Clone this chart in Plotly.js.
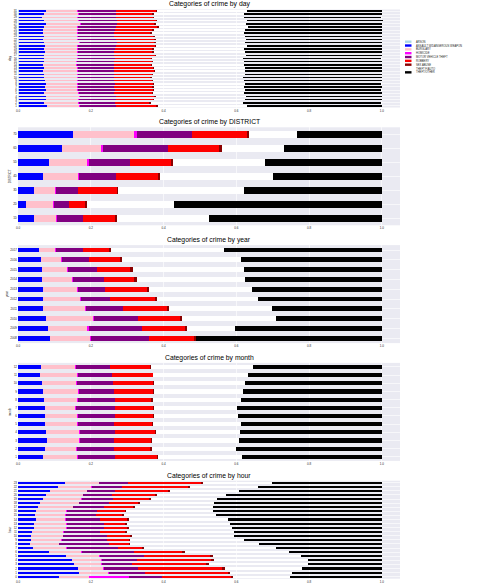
<!DOCTYPE html>
<html>
<head>
<meta charset="utf-8">
<script src="https://cdn.plot.ly/plotly-3.0.1.min.js"></script>
<style>html,body{margin:0;padding:0;background:#fff;}#chart{width:478px;height:588px;}</style>
</head>
<body>
<div id="chart"></div>
<script>
// ---------- categories ----------
const crimeCategories = ['ARSON','ASSAULT W/DANGEROUS WEAPON','BURGLARY','HOMICIDE','MOTOR VEHICLE THEFT','ROBBERY','SEX ABUSE','THEFT F/AUTO','THEFT/OTHER'];

// ---------- by day ----------
const dayLabels = ['1','2','3','4','5','6','7','8','9','10','11','12','13','14','15','16','17','18','19','20','21','22','23','24','25','26','27','28','29','30','31'];
const dayArson    = [.002,.002,.002,.002,.002,.002,.002,.002,.002,.002,.002,.002,.002,.002,.002,.002,.002,.002,.002,.002,.002,.002,.002,.002,.002,.002,.002,.002,.002,.002,.002];
const dayAssault  = [.079,.070,.074,.076,.070,.074,.073,.074,.072,.070,.070,.068,.070,.068,.070,.070,.070,.072,.070,.072,.070,.068,.070,.068,.068,.070,.076,.070,.065,.070,.074];
const dayBurglary = [.086,.093,.089,.089,.092,.086,.086,.086,.087,.091,.091,.091,.089,.089,.087,.089,.089,.089,.091,.089,.096,.093,.091,.091,.093,.091,.092,.092,.095,.093,.087];
const dayHomicide = [.003,.003,.003,.003,.003,.003,.003,.003,.003,.003,.003,.003,.003,.003,.003,.003,.003,.003,.003,.003,.003,.003,.003,.003,.003,.003,.003,.003,.003,.003,.003];
const dayMotor    = [.099,.098,.101,.099,.098,.101,.099,.101,.101,.097,.099,.101,.101,.101,.101,.103,.101,.099,.101,.104,.100,.104,.099,.101,.101,.104,.099,.104,.103,.101,.104];
const dayRobbery  = [.111,.095,.102,.106,.103,.104,.106,.104,.102,.101,.102,.108,.106,.102,.105,.098,.111,.104,.102,.106,.103,.104,.107,.099,.102,.113,.103,.108,.103,.100,.108];
const daySex      = [.004,.004,.004,.004,.004,.004,.004,.004,.004,.004,.004,.004,.004,.004,.004,.004,.004,.004,.004,.004,.004,.004,.004,.004,.004,.004,.004,.004,.004,.004,.004];
const dayTheftAuto= [.246,.254,.250,.249,.248,.250,.249,.251,.250,.251,.252,.248,.249,.252,.250,.250,.247,.250,.247,.249,.247,.248,.247,.253,.250,.244,.248,.246,.247,.249,.247];
const dayTheftOther=[.370,.380,.375,.372,.380,.375,.378,.374,.380,.382,.378,.375,.376,.380,.378,.380,.374,.377,.380,.372,.375,.374,.378,.380,.377,.370,.373,.375,.376,.378,.372];

// ---------- by DISTRICT ----------
const districtLabels = ['1D','2D','3D','4D','5D','6D','7D'];
const districtArson    = [.001,.001,.001,.001,.001,.001,.001];
const districtAssault  = [.044,.021,.043,.067,.083,.119,.150];
const districtBurglary = [.060,.075,.058,.096,.107,.108,.167];
const districtHomicide = [.002,.002,.002,.003,.003,.005,.009];
const districtMotor    = [.071,.042,.062,.102,.115,.179,.150];
const districtRobbery  = [.089,.044,.106,.115,.112,.140,.153];
const districtSex      = [.005,.004,.004,.007,.005,.009,.004];
const districtTheftAuto= [.252,.239,.345,.311,.253,.170,.134];
const districtTheftOther=[.476,.572,.379,.298,.321,.269,.232];

// ---------- by year ----------
const yearLabels = ['2008','2009','2010','2011','2012','2013','2014','2015','2016','2017'];
const yearArson    = [.001,.001,.001,.001,.001,.001,.001,.001,.001,.001];
const yearAssault  = [.087,.081,.075,.069,.067,.067,.064,.064,.061,.057];
const yearBurglary = [.110,.109,.130,.115,.103,.094,.083,.069,.056,.044];
const yearHomicide = [.003,.003,.003,.002,.003,.002,.003,.003,.003,.002];
const yearMotor    = [.160,.147,.120,.101,.079,.076,.084,.080,.075,.076];
const yearRobbery  = [.123,.119,.117,.122,.124,.115,.085,.092,.083,.069];
const yearSex      = [.004,.005,.005,.004,.005,.005,.007,.007,.007,.006];
const yearTheftAuto= [0,.131,.257,.285,.278,.284,.296,.305,.327,.311];
const yearTheftOther=[.512,.404,.292,.301,.340,.356,.377,.379,.387,.434];

// ---------- by month ----------
const monthLabels = ['1','2','3','4','5','6','7','8','9','10','11','12'];
const monthArson    = [.001,.001,.001,.001,.001,.001,.001,.001,.001,.001,.001,.001];
const monthAssault  = [.069,.072,.078,.076,.073,.073,.072,.071,.069,.064,.060,.061];
const monthBurglary = [.093,.087,.089,.092,.089,.088,.084,.090,.096,.095,.101,.095];
const monthHomicide = [.003,.002,.003,.002,.003,.002,.003,.002,.003,.003,.002,.003];
const monthMotor    = [.101,.101,.094,.096,.099,.103,.107,.103,.095,.098,.094,.093];
const monthRobbery  = [.114,.101,.101,.109,.103,.103,.104,.099,.107,.110,.112,.111];
const monthSex      = [.004,.004,.003,.003,.004,.004,.004,.004,.004,.004,.002,.002];
const monthTheftAuto= [.231,.232,.238,.231,.240,.232,.228,.242,.243,.250,.260,.279];
const monthTheftOther=[.385,.400,.393,.390,.388,.394,.397,.388,.382,.375,.368,.355];

// ---------- by hour ----------
const hourLabels = ['0','1','2','3','4','5','6','7','8','9','10','11','12','13','14','15','16','17','18','19','20','21','22','23'];
const hourArson    = [.001,.001,.001,.001,.001,.001,.001,.001,.001,.001,.001,.001,.001,.001,.001,.001,.001,.001,.001,.001,.001,.001,.001,.001];
const hourAssault  = [.113,.167,.165,.153,.147,.130,.083,.041,.032,.035,.035,.037,.044,.044,.049,.046,.049,.055,.060,.069,.075,.087,.110,.128];
const hourBurglary = [.080,.079,.067,.074,.080,.093,.089,.090,.079,.082,.087,.087,.087,.087,.080,.082,.082,.094,.106,.103,.102,.101,.090,.093];
const hourHomicide = [.110,.002,.002,.002,.002,.002,.002,.002,.002,.002,.002,.002,.002,.002,.002,.002,.002,.002,.002,.002,.002,.002,.002,.002];
const hourMotor    = [.092,.101,.096,.083,.097,.119,.143,.142,.135,.124,.119,.099,.103,.101,.094,.084,.083,.083,.080,.086,.078,.076,.083,.078];
const hourRobbery  = [.190,.226,.231,.203,.203,.183,.132,.064,.055,.060,.064,.068,.062,.059,.073,.070,.076,.082,.082,.098,.118,.144,.181,.200];
const hourSex      = [.006,.008,.008,.008,.008,.008,.010,.007,.005,.005,.005,.005,.005,.005,.005,.005,.005,.005,.005,.006,.006,.006,.007,.007];
const hourTheftAuto= [.157,.170,.210,.273,.259,.241,.285,.361,.353,.312,.282,.294,.283,.285,.274,.253,.237,.213,.202,.182,.189,.190,.186,.190];
const hourTheftOther=[.251,.246,.220,.203,.203,.223,.255,.292,.338,.379,.405,.407,.413,.416,.422,.457,.465,.465,.462,.453,.429,.393,.340,.301];

// ---------- styles ----------
const categoryColors = ['lightblue','#0000ff','pink','magenta','purple','red','darkred','white','black'];

const panels = [
  {title:'Categories of crime by day', axisTitle:'day', labels:dayLabels,
   series:[dayArson,dayAssault,dayBurglary,dayHomicide,dayMotor,dayRobbery,daySex,dayTheftAuto,dayTheftOther]},
  {title:'Categories of crime by DISTRICT', axisTitle:'DISTRICT', labels:districtLabels,
   series:[districtArson,districtAssault,districtBurglary,districtHomicide,districtMotor,districtRobbery,districtSex,districtTheftAuto,districtTheftOther]},
  {title:'Categories of crime by year', axisTitle:'year', labels:yearLabels,
   series:[yearArson,yearAssault,yearBurglary,yearHomicide,yearMotor,yearRobbery,yearSex,yearTheftAuto,yearTheftOther]},
  {title:'Categories of crime by month', axisTitle:'month', labels:monthLabels,
   series:[monthArson,monthAssault,monthBurglary,monthHomicide,monthMotor,monthRobbery,monthSex,monthTheftAuto,monthTheftOther]},
  {title:'Categories of crime by hour', axisTitle:'hour', labels:hourLabels,
   series:[hourArson,hourAssault,hourBurglary,hourHomicide,hourMotor,hourRobbery,hourSex,hourTheftAuto,hourTheftOther]}
];

const W = 478, H = 588;
const ML = 18, MR = 78;
const plotW = W - ML - MR;
const pxToPaperX = px => (px - ML) / plotW;
const pxToPaperY = py => 1 - py / H;

const traces = [];
const layout = {
  width: W, height: H,
  margin: {l: ML, r: MR, t: 0, b: 0, pad: 0},
  paper_bgcolor: '#ffffff',
  plot_bgcolor: '#EAEAF2',
  barmode: 'stack',
  bargap: 0.5,
  showlegend: false,
  font: {family: '"Liberation Sans", Arial, sans-serif', color: '#262626', size: 3},
  annotations: [],
  shapes: []
};

const panelTop0 = 9.5, panelStep = 117.8, panelH = 98;

panels.forEach((p, i) => {
  const k = i === 0 ? '' : String(i + 1);
  const top = panelTop0 + panelStep * i;
  const bottom = top + panelH;
  crimeCategories.forEach((cat, c) => {
    traces.push({
      type: 'bar', orientation: 'h',
      name: cat,
      x: p.series[c], y: p.labels,
      xaxis: 'x' + k, yaxis: 'y' + k,
      marker: {color: categoryColors[c], line: {width: 0}},
      hoverinfo: 'name+x+y'
    });
  });
  layout['xaxis' + k] = {
    anchor: 'y' + k, domain: [0, 1], range: [0, 1.05],
    tickmode: 'linear', tick0: 0, dtick: 0.2, tickformat: '.1f',
    showgrid: true, gridcolor: '#ffffff', gridwidth: 0.6,
    zeroline: false, showline: false, ticks: '',
    tickfont: {size: 3, color: '#262626'}, fixedrange: true
  };
  layout['yaxis' + k] = {
    anchor: 'x' + k,
    domain: [1 - bottom / H, 1 - top / H],
    type: 'category', range: [-0.5, p.labels.length - 0.5],
    tickmode: 'array', tickvals: p.labels, ticktext: p.labels,
    showgrid: true, gridcolor: '#ffffff', gridwidth: 0.6,
    zeroline: false, showline: false, ticks: '',
    tickfont: {size: 3, color: '#262626'},
    title: {text: p.axisTitle, font: {size: 3, color: '#262626'}, standoff: 2},
    fixedrange: true
  };
  layout.annotations.push({
    text: p.title, xref: 'paper', yref: 'paper',
    x: 0.5, y: 1 - top / H, xanchor: 'center', yanchor: 'bottom',
    yshift: 0, borderpad: 0, showarrow: false,
    font: {size: 6.8, color: '#000000'}
  });
});

// legend (drawn small, like the original)
const legTop = 41.7, legStep = 3.83;
crimeCategories.forEach((cat, c) => {
  const cy = legTop + legStep * c;
  layout.shapes.push({
    type: 'rect', xref: 'paper', yref: 'paper',
    x0: pxToPaperX(405), x1: pxToPaperX(411.5),
    y0: pxToPaperY(cy + 1.2), y1: pxToPaperY(cy - 1.2),
    fillcolor: categoryColors[c], line: {width: 0}
  });
  layout.annotations.push({
    text: cat, xref: 'paper', yref: 'paper',
    x: pxToPaperX(415), y: pxToPaperY(cy), xanchor: 'left', yanchor: 'middle',
    showarrow: false, borderpad: 0,
    font: {size: 2.7, color: '#262626'}
  });
});

Plotly.newPlot('chart', traces, layout, {displayModeBar: false, staticPlot: true});
</script>
</body>
</html>
